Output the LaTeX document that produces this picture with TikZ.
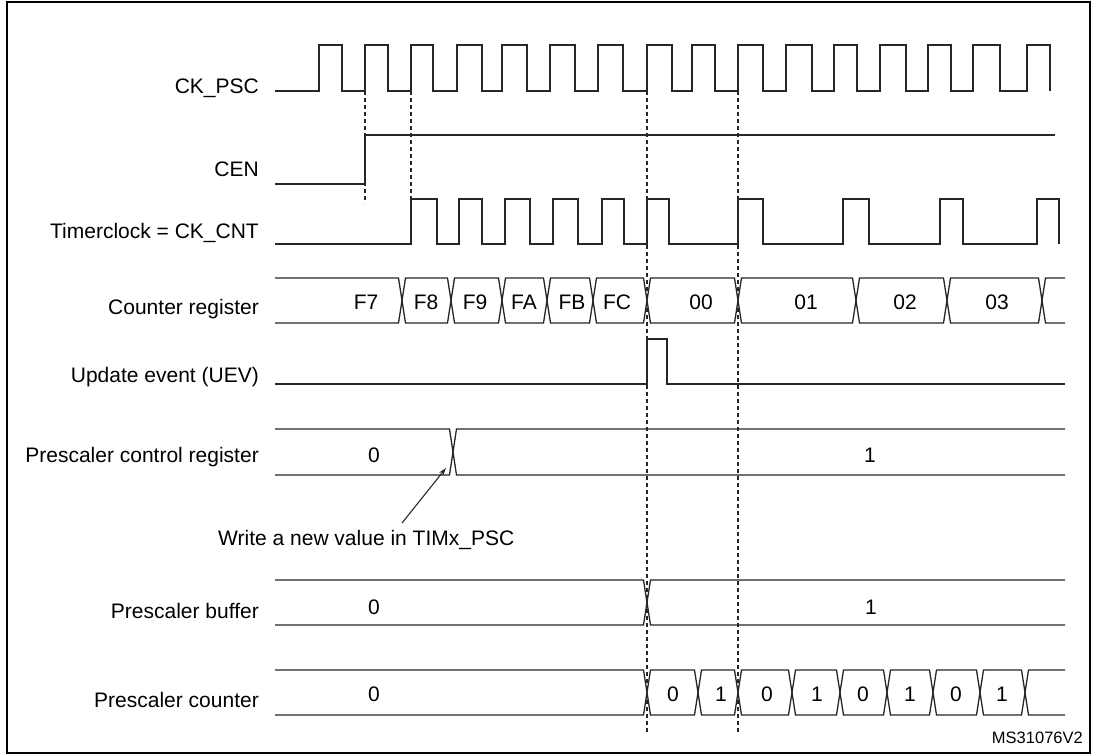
\documentclass[tikz,border=0pt]{standalone}
\usepackage{fontspec}
\setmainfont{Liberation Sans}
\usetikzlibrary{arrows.meta}
\newcommand{\bushex}[4]{%
  \draw[sig] ({#1},{(#3+#4)/2}) -- ({#1+3.5},#3) -- ({#2-3.5},#3) -- ({#2},{(#3+#4)/2}) -- ({#2-3.5},#4) -- ({#1+3.5},#4) -- cycle;}
\newcommand{\busstart}[4]{% x0 c T B
  \draw[sig] ({#1},#3) -- ({#2-3.5},#3) -- ({#2},{(#3+#4)/2}) -- ({#2-3.5},#4) -- ({#1},#4);}
\newcommand{\busend}[4]{% c x1 T B
  \draw[sig] ({#2},#3) -- ({#1+3.5},#3) -- ({#1},{(#3+#4)/2}) -- ({#1+3.5},#4) -- ({#2},#4);}
\begin{document}
\begin{tikzpicture}[x=1pt,y=-1pt,
  sig/.style={line width=1.3pt, draw=black!85, line join=miter},
  vline/.style={line width=1.2pt, draw=black!85, dash pattern=on 4pt off 3pt},
  lbl/.style={anchor=base east, inner sep=0pt, font=\fontsize{21}{25}\selectfont},
  val/.style={anchor=base, inner sep=0pt, font=\fontsize{21}{25}\selectfont},
  note/.style={anchor=base west, inner sep=0pt, font=\fontsize{21}{25}\selectfont}]
\useasboundingbox (0,0) rectangle (1093,754);
\draw[line width=2pt] (7,2) rectangle (1090,753);

% labels
\node[lbl] (lckpsc) at (259,94) {CK\_PSC};
\node[lbl] (lcen) at (259,177) {CEN};
\node[lbl] (ltim) at (259,239) {Timerclock = CK\_CNT};
\node[lbl] (lcnt) at (259,315) {Counter register};
\node[lbl] (luev) at (259,382) {Update event (UEV)};
\node[lbl] (lpcr) at (259,462) {Prescaler control register};
\node[lbl] (lpbuf) at (259,618) {Prescaler buffer};
\node[lbl] (lpcnt) at (259,707) {Prescaler counter};

% CK_PSC
\draw[sig] (275,91) \foreach \r/\f in {319/342,365/388,411/433,457/482,502/527,550/575,598/623,647/672,692/715,738/763,786/812,834/857,880/906,928/951,973/1000,1027/1050} { -- (\r,91) -- (\r,45) -- (\f,45) -- (\f,91) };

% CEN
\draw[sig] (275,184) -- (365,184) -- (365,135) -- (1055,135);

% Timerclock
\draw[sig] (275,244) \foreach \r/\f in {411/437,459/482,505/530,553/578,602/624,647/669,738/763,843/869,940/963,1037/1059} { -- (\r,244) -- (\r,199) -- (\f,199) -- (\f,244) };

% Counter register
\busstart{275}{402}{278}{323}
\foreach \a/\b in {402/451,451/502,502/547,547/593,593/647,647/738,738/856,856/947,947/1042} {\bushex{\a}{\b}{278}{323}}
\busend{1042}{1065}{278}{323}
\node[val] (cF7) at (366,309) {F7};
\node[val] (cF8) at (426,309) {F8};
\node[val] (cF9) at (475,309) {F9};
\node[val] (cFA) at (524,309) {FA};
\node[val] (cFB) at (572,309) {FB};
\node[val] (cFC) at (617,309) {FC};
\node[val] (c00) at (701,309) {00};
\node[val] (c01) at (806,309) {01};
\node[val] (c02) at (905,309) {02};
\node[val] (c03) at (997,309) {03};

% UEV
\draw[sig] (275,384) -- (647,384) -- (647,339) -- (667,339) -- (667,384) -- (1065,384);

% Prescaler control register
\busstart{275}{453}{429}{475}
\busend{453}{1065}{429}{475}
\node[val] (p0) at (374,462) {0};
\node[val] (p1) at (870,462) {1};

% Write note
\node[note] (wnote) at (218,545.5) {Write a new value in TIMx\_PSC};
\coordinate (wstart) at (402,523);
\coordinate (wtip) at (446,468);
\draw[line width=1.1pt, draw=black!85, -{Stealth[length=8pt,width=5pt]}] (wstart) -- (wtip);

% Prescaler buffer
\busstart{275}{647}{580}{625}
\busend{647}{1065}{580}{625}
\node[val] (b0) at (374,614) {0};
\node[val] (b1) at (871,614) {1};

% Prescaler counter
\busstart{275}{647}{670}{715}
\foreach \a/\b in {647/698,698/738,738/792,792/840,840/887,887/933,933/980,980/1025} {\bushex{\a}{\b}{670}{715}}
\busend{1025}{1065}{670}{715}
\node[val] (q0) at (374,701.5) {0};
\node[val] (q1) at (673,701.5) {0};
\node[val] (q2) at (721,701.5) {1};
\node[val] (q3) at (767,701.5) {0};
\node[val] (q4) at (817,701.5) {1};
\node[val] (q5) at (863,701.5) {0};
\node[val] (q6) at (910,701.5) {1};
\node[val] (q7) at (956,701.5) {0};
\node[val] (q8) at (1002,701.5) {1};

% dashed guides
\coordinate (d1a) at (365,91); \coordinate (d1b) at (365,203);
\coordinate (d2a) at (411,91); \coordinate (d2b) at (411,199);
\coordinate (d3a) at (647,91); \coordinate (d3b) at (647,733);
\coordinate (d4a) at (738,91); \coordinate (d4b) at (738,733);
\draw[vline] (d1a) -- (d1b);
\draw[vline] (d2a) -- (d2b);
\draw[vline] (d3a) -- (d3b);
\draw[vline] (d4a) -- (d4b);

\node[anchor=base east, inner sep=0pt, font=\fontsize{16.5}{19}\selectfont] (ms) at (1083,743) {MS31076V2};
\end{tikzpicture}
\end{document}
